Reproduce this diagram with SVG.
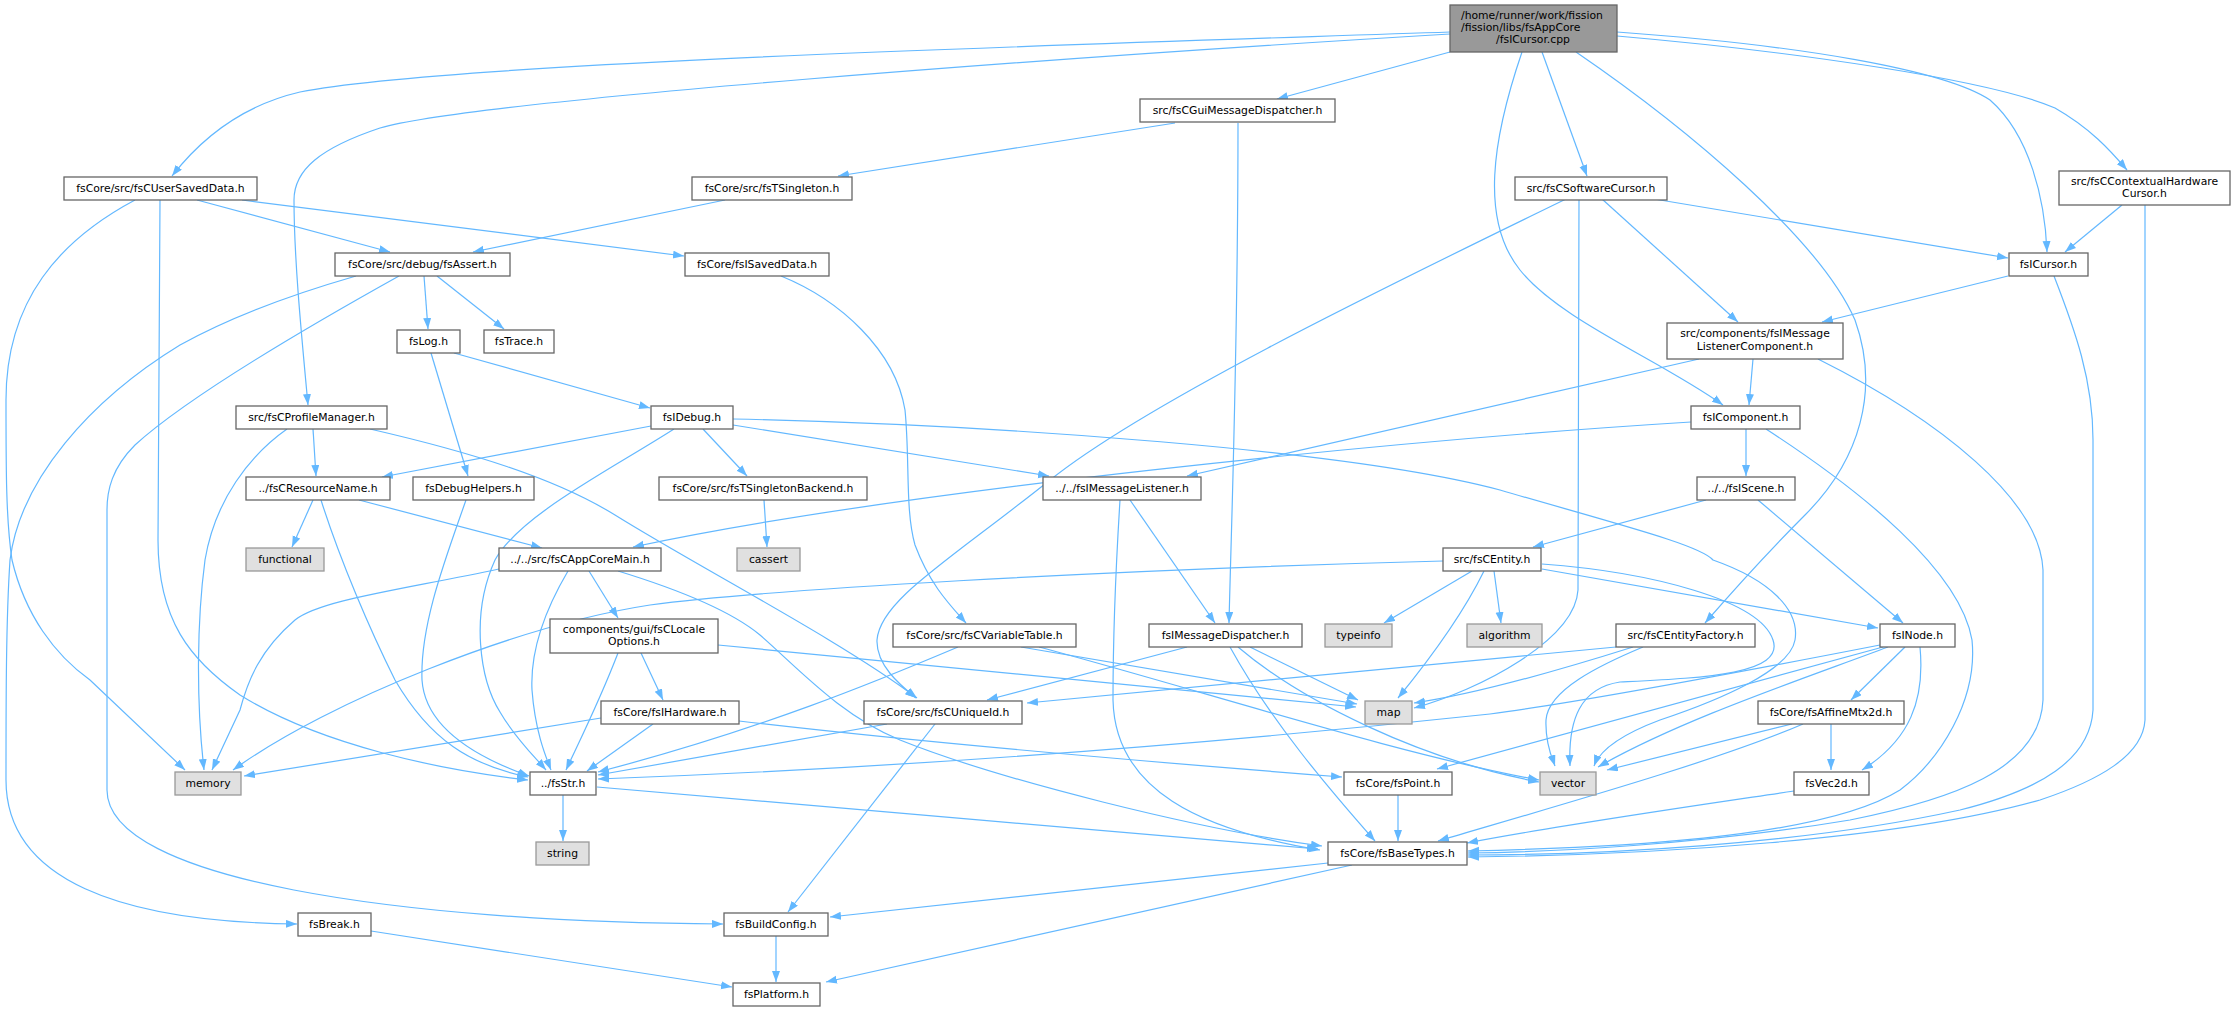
<svg xmlns="http://www.w3.org/2000/svg" width="2235" height="1012" viewBox="0 0 2235 1012">
<style>
.n rect{fill:#fff;stroke:#666;stroke-width:1.3}
.x rect{fill:#e0e0e0;stroke:#999;stroke-width:1.3}
.m rect{fill:#999;stroke:#666;stroke-width:1.3}
text{font-family:"DejaVu Sans",sans-serif;font-size:10.8px;fill:#000;text-anchor:middle}
.s{text-anchor:start}
#edges path{fill:none;stroke:#63b8ff;stroke-width:1.2;marker-end:url(#arr)}
</style>
<defs>
<marker id="arr" markerUnits="userSpaceOnUse" markerWidth="12" markerHeight="9" refX="11" refY="4" orient="auto"><path d="M0,0 L11,4 L0,8 z" fill="#63b8ff"/></marker>
</defs>
<rect width="2235" height="1012" fill="#fff"/>
<g id="edges">
<path d="M1450,32 C1100,44 450,62 300,92 C240,106 200,140 172,176"/>
<path d="M1450,34 C1050,58 480,100 380,128 C320,148 294,170 294,200 C294,260 302,340 308,405"/>
<path d="M1450,52 L1277,99"/>
<path d="M1542,52 L1587,176"/>
<path d="M1522,52 C1492,140 1480,220 1520,270 C1560,320 1660,360 1723,405"/>
<path d="M1576,52 C1690,130 1820,240 1855,320 C1880,390 1860,460 1805,515 C1760,560 1725,600 1705,623"/>
<path d="M1617,32 C1800,45 1945,70 1990,100 C2030,135 2045,200 2047,252"/>
<path d="M1617,36 C1800,52 1990,80 2055,108 C2090,128 2110,150 2127,170"/>
<path d="M1175,123 L838,176"/>
<path d="M1238,123 C1238,350 1232,500 1229,623"/>
<path d="M725,200 L473,252"/>
<path d="M197,200 L390,252"/>
<path d="M242,200 L684,256"/>
<path d="M135,200 C60,240 6,300 6,400 C6,470 6,520 12,560 C25,615 55,655 90,680 L185,770"/>
<path d="M160,200 L158,540 C158,620 190,660 240,695 C320,745 440,770 528,780"/>
<path d="M424,276 L428,329"/>
<path d="M437,276 L504,329"/>
<path d="M356,276 C290,295 225,320 180,345 C90,400 20,480 10,560 C6,620 6,700 6,780 C6,880 120,922 297,924"/>
<path d="M399,276 C320,320 190,395 135,445 C112,468 107,490 107,510 L107,790 C107,880 400,922 723,924"/>
<path d="M431,353 L468,476"/>
<path d="M454,353 L650,408"/>
<path d="M466,500 C445,560 420,625 422,680 C425,725 470,755 529,776"/>
<path d="M651,426 L382,477"/>
<path d="M674,429 C610,470 520,515 495,560 C470,615 480,680 500,712 C515,738 533,755 546,770"/>
<path d="M703,429 L747,476"/>
<path d="M733,425 L1049,476"/>
<path d="M733,419 C1000,425 1350,450 1500,490 C1620,525 1700,545 1713,560 C1770,580 1800,610 1795,640 C1790,670 1720,700 1660,720 C1620,735 1600,750 1594,766"/>
<path d="M1691,422 C1400,440 900,490 633,547"/>
<path d="M1699,359 L1187,476"/>
<path d="M313,500 L292,547"/>
<path d="M321,500 C340,560 370,630 395,680 C430,740 470,765 528,777"/>
<path d="M359,500 L542,548"/>
<path d="M313,429 L316,476"/>
<path d="M287,429 C250,455 215,500 205,560 C197,620 196,700 204,770"/>
<path d="M370,429 C470,452 555,478 615,515 C700,568 840,640 917,698"/>
<path d="M1566,199 C1400,280 1150,400 1050,480 C950,560 880,600 877,640 C876,665 900,685 916,698"/>
<path d="M1654,199 L2008,258"/>
<path d="M1602,199 L1738,322"/>
<path d="M1579,199 L1578,590 C1575,640 1480,690 1414,708"/>
<path d="M2008,276 L1822,322"/>
<path d="M2122,205 L2065,252"/>
<path d="M1753,359 L1749,405"/>
<path d="M1746,429 L1746,476"/>
<path d="M1706,500 L1533,547"/>
<path d="M1758,500 L1903,623"/>
<path d="M1472,571 L1384,623"/>
<path d="M1494,571 L1501,623"/>
<path d="M1484,571 C1460,620 1425,665 1398,698"/>
<path d="M1542,569 L1878,628"/>
<path d="M1443,561 C1100,570 760,590 650,605 C520,625 330,700 233,770"/>
<path d="M1542,564 C1650,572 1760,600 1773,640 C1785,675 1700,678 1620,682 C1580,688 1568,720 1570,766"/>
<path d="M1616,647 L1027,703"/>
<path d="M1633,647 C1560,670 1470,695 1414,703"/>
<path d="M1643,647 C1600,665 1548,690 1546,720 C1545,745 1553,760 1555,766"/>
<path d="M1880,645 C1700,680 1560,705 1490,714 C1200,745 900,768 598,779"/>
<path d="M1883,647 L1437,769"/>
<path d="M1888,647 C1800,680 1680,720 1598,767"/>
<path d="M1905,647 L1851,700"/>
<path d="M1920,647 C1925,700 1910,740 1862,770"/>
<path d="M1792,724 L1607,770"/>
<path d="M1831,724 L1831,770"/>
<path d="M1803,724 C1720,760 1560,805 1438,841"/>
<path d="M1794,791 C1700,805 1560,825 1467,843"/>
<path d="M1766,429 C1860,490 1960,570 1972,640 C1978,700 1940,760 1900,790 C1820,840 1600,848 1468,851"/>
<path d="M1818,359 C1940,420 2040,500 2043,570 L2043,700 C2040,770 1950,800 1850,820 C1700,845 1550,852 1468,853"/>
<path d="M2054,276 C2075,330 2093,380 2093,440 L2093,710 C2090,760 2040,790 1960,810 C1800,845 1600,855 1468,855"/>
<path d="M2145,205 L2145,720 C2143,755 2100,780 2040,800 C1900,840 1650,855 1468,857"/>
<path d="M1120,500 C1115,580 1113,640 1113,700 C1115,790 1200,830 1320,850"/>
<path d="M1130,500 L1215,623"/>
<path d="M1187,647 L987,700"/>
<path d="M1230,647 C1270,720 1330,790 1375,841"/>
<path d="M1250,647 L1358,700"/>
<path d="M1238,647 C1300,700 1420,760 1539,782"/>
<path d="M1021,647 L1357,704"/>
<path d="M1039,647 C1200,690 1400,755 1539,780"/>
<path d="M958,647 C880,680 760,730 598,772"/>
<path d="M887,724 L598,775"/>
<path d="M935,724 L788,912"/>
<path d="M739,721 C900,740 1150,762 1342,777"/>
<path d="M601,718 L244,776"/>
<path d="M653,724 L587,771"/>
<path d="M641,653 L663,700"/>
<path d="M618,653 C600,700 580,740 566,770"/>
<path d="M718,645 L1356,707"/>
<path d="M589,571 L618,618"/>
<path d="M568,571 C545,610 530,650 532,690 C535,730 545,755 551,770"/>
<path d="M499,569 C400,590 320,600 295,620 C260,650 248,680 240,710 L212,770"/>
<path d="M618,571 C680,590 730,610 760,635 C800,670 840,715 900,740 C1000,780 1200,830 1322,846"/>
<path d="M781,276 C840,300 895,350 905,410 C910,460 905,510 915,545 C930,585 950,605 966,623"/>
<path d="M764,500 L767,547"/>
<path d="M1398,795 L1398,841"/>
<path d="M563,795 L563,841"/>
<path d="M597,787 C800,805 1100,830 1318,849"/>
<path d="M1328,863 L830,917"/>
<path d="M1352,865 L826,982"/>
<path d="M776,936 L776,982"/>
<path d="M371,931 L732,987"/>
</g>
<g id="n_main" class="m"><rect x="1450" y="5" width="167" height="47"/><text class="s" x="1461" y="19">/home/runner/work/fission</text><text class="s" x="1461" y="31">/fission/libs/fsAppCore</text><text x="1533" y="43">/fsICursor.cpp</text></g>
<g id="n_usersaved" class="n"><rect x="64" y="177" width="193" height="23"/><text x="160.5" y="192">fsCore/src/fsCUserSavedData.h</text></g>
<g id="n_profile" class="n"><rect x="236" y="406" width="151" height="23"/><text x="311.5" y="421">src/fsCProfileManager.h</text></g>
<g id="n_guidisp" class="n"><rect x="1140" y="99" width="195" height="23"/><text x="1237.5" y="114">src/fsCGuiMessageDispatcher.h</text></g>
<g id="n_swcursor" class="n"><rect x="1515" y="177" width="152" height="23"/><text x="1591" y="192">src/fsCSoftwareCursor.h</text></g>
<g id="n_icomp" class="n"><rect x="1691" y="406" width="109" height="23"/><text x="1745.5" y="421">fsIComponent.h</text></g>
<g id="n_entfactory" class="n"><rect x="1616" y="624" width="139" height="23"/><text x="1685.5" y="639">src/fsCEntityFactory.h</text></g>
<g id="n_icursor" class="n"><rect x="2009" y="253" width="79" height="23"/><text x="2048.5" y="268">fsICursor.h</text></g>
<g id="n_ctxcursor" class="n"><rect x="2059" y="171" width="171" height="34"/><text x="2144.5" y="185">src/fsCContextualHardware</text><text x="2144.5" y="197">Cursor.h</text></g>
<g id="n_assert" class="n"><rect x="335" y="253" width="175" height="23"/><text x="422.5" y="268">fsCore/src/debug/fsAssert.h</text></g>
<g id="n_isaved" class="n"><rect x="685" y="253" width="144" height="23"/><text x="757" y="268">fsCore/fsISavedData.h</text></g>
<g id="n_tsingleton" class="n"><rect x="692" y="177" width="160" height="23"/><text x="772" y="192">fsCore/src/fsTSingleton.h</text></g>
<g id="n_memory" class="x"><rect x="175" y="772" width="66" height="23"/><text x="208" y="787">memory</text></g>
<g id="n_str" class="n"><rect x="530" y="772" width="66" height="23"/><text x="563" y="787">../fsStr.h</text></g>
<g id="n_log" class="n"><rect x="397" y="330" width="63" height="23"/><text x="428.5" y="345">fsLog.h</text></g>
<g id="n_trace" class="n"><rect x="484" y="330" width="70" height="23"/><text x="519" y="345">fsTrace.h</text></g>
<g id="n_break" class="n"><rect x="298" y="913" width="73" height="23"/><text x="334.5" y="928">fsBreak.h</text></g>
<g id="n_buildcfg" class="n"><rect x="724" y="913" width="104" height="23"/><text x="776" y="928">fsBuildConfig.h</text></g>
<g id="n_dbghelp" class="n"><rect x="413" y="477" width="121" height="23"/><text x="473.5" y="492">fsDebugHelpers.h</text></g>
<g id="n_idebug" class="n"><rect x="651" y="406" width="82" height="23"/><text x="692" y="421">fsIDebug.h</text></g>
<g id="n_resname" class="n"><rect x="246" y="477" width="144" height="23"/><text x="318" y="492">../fsCResourceName.h</text></g>
<g id="n_tsbackend" class="n"><rect x="659" y="477" width="208" height="23"/><text x="763" y="492">fsCore/src/fsTSingletonBackend.h</text></g>
<g id="n_imsglistener" class="n"><rect x="1043" y="477" width="158" height="23"/><text x="1122" y="492">../../fsIMessageListener.h</text></g>
<g id="n_functional" class="x"><rect x="246" y="548" width="78" height="23"/><text x="285" y="563">functional</text></g>
<g id="n_appcore" class="n"><rect x="499" y="548" width="162" height="23"/><text x="580" y="563">../../src/fsCAppCoreMain.h</text></g>
<g id="n_cassert" class="x"><rect x="737" y="548" width="63" height="23"/><text x="768.5" y="563">cassert</text></g>
<g id="n_locale" class="n"><rect x="550" y="619" width="168" height="34"/><text x="634" y="633">components/gui/fsCLocale</text><text x="634" y="645">Options.h</text></g>
<g id="n_ihardware" class="n"><rect x="601" y="701" width="138" height="23"/><text x="670" y="716">fsCore/fsIHardware.h</text></g>
<g id="n_uniqueid" class="n"><rect x="864" y="701" width="158" height="23"/><text x="943" y="716">fsCore/src/fsCUniqueId.h</text></g>
<g id="n_vartable" class="n"><rect x="893" y="624" width="183" height="23"/><text x="984.5" y="639">fsCore/src/fsCVariableTable.h</text></g>
<g id="n_imsgdisp" class="n"><rect x="1149" y="624" width="153" height="23"/><text x="1225.5" y="639">fsIMessageDispatcher.h</text></g>
<g id="n_typeinfo" class="x"><rect x="1325" y="624" width="67" height="23"/><text x="1358.5" y="639">typeinfo</text></g>
<g id="n_algorithm" class="x"><rect x="1467" y="624" width="75" height="23"/><text x="1504.5" y="639">algorithm</text></g>
<g id="n_entity" class="n"><rect x="1443" y="548" width="98" height="23"/><text x="1492" y="563">src/fsCEntity.h</text></g>
<g id="n_imsglc" class="n"><rect x="1667" y="323" width="176" height="36"/><text x="1755" y="337">src/components/fsIMessage</text><text x="1755" y="350">ListenerComponent.h</text></g>
<g id="n_iscene" class="n"><rect x="1697" y="477" width="98" height="23"/><text x="1746" y="492">../../fsIScene.h</text></g>
<g id="n_inode" class="n"><rect x="1880" y="624" width="75" height="23"/><text x="1917.5" y="639">fsINode.h</text></g>
<g id="n_map" class="x"><rect x="1365" y="701" width="47" height="23"/><text x="1388.5" y="716">map</text></g>
<g id="n_point" class="n"><rect x="1344" y="772" width="108" height="23"/><text x="1398" y="787">fsCore/fsPoint.h</text></g>
<g id="n_basetypes" class="n"><rect x="1328" y="842" width="139" height="23"/><text x="1397.5" y="857">fsCore/fsBaseTypes.h</text></g>
<g id="n_platform" class="n"><rect x="733" y="983" width="87" height="23"/><text x="776.5" y="998">fsPlatform.h</text></g>
<g id="n_string" class="x"><rect x="536" y="842" width="53" height="23"/><text x="562.5" y="857">string</text></g>
<g id="n_affine" class="n"><rect x="1758" y="701" width="146" height="23"/><text x="1831" y="716">fsCore/fsAffineMtx2d.h</text></g>
<g id="n_vector" class="x"><rect x="1540" y="772" width="56" height="23"/><text x="1568" y="787">vector</text></g>
<g id="n_vec2d" class="n"><rect x="1794" y="772" width="75" height="23"/><text x="1831.5" y="787">fsVec2d.h</text></g>
</svg>
